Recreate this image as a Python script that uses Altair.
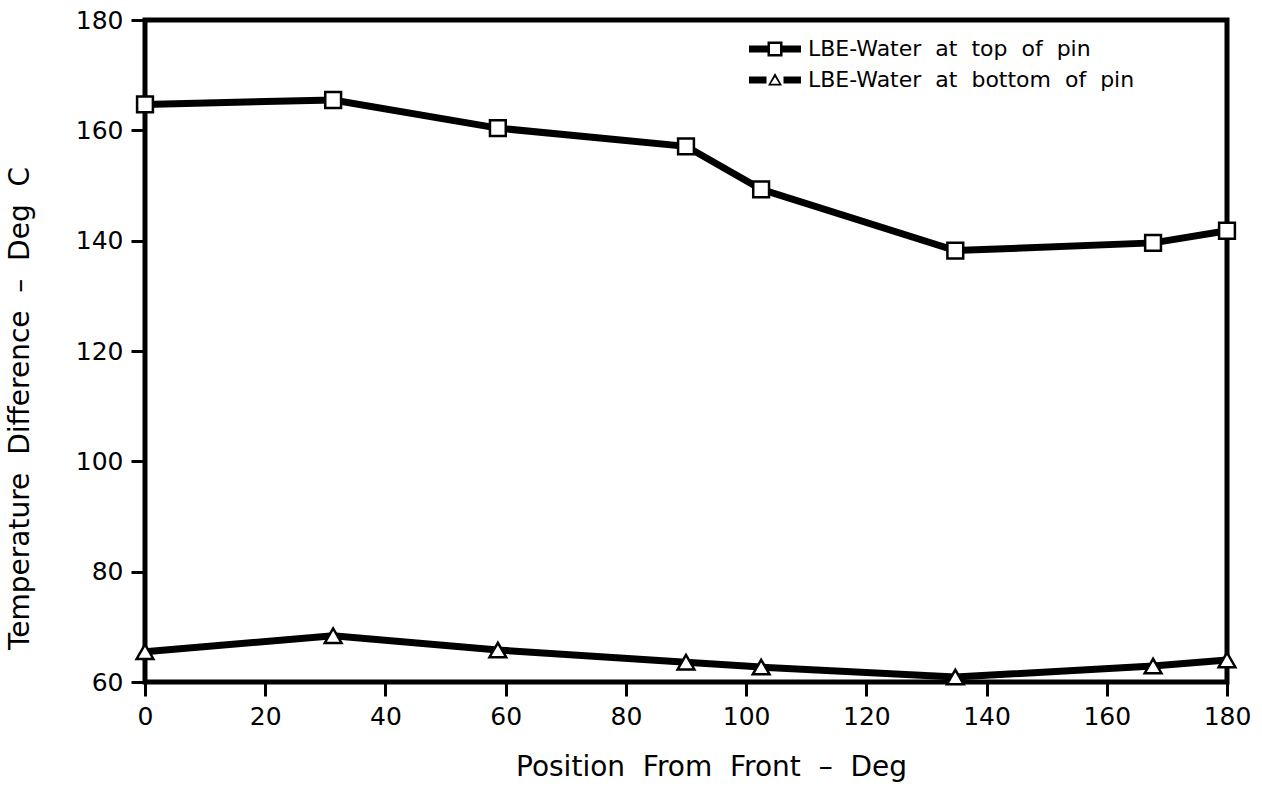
import altair as alt
import pandas as pd

positions = [0, 31.3, 58.7, 90.0, 102.5, 134.8, 167.7, 180.0]
top_values = [164.7, 165.5, 160.4, 157.1, 149.3, 138.2, 139.6, 141.8]
bottom_values = [65.5, 68.4, 65.8, 63.6, 62.7, 60.9, 62.9, 64.0]
series_names = ["LBE-Water at top of pin", "LBE-Water at bottom of pin"]
x_ticks = [0, 20, 40, 60, 80, 100, 120, 140, 160, 180]
y_ticks = [60, 80, 100, 120, 140, 160, 180]

df = pd.DataFrame({
    "position": positions + positions,
    "dt": top_values + bottom_values,
    "series": [series_names[0]] * len(positions) + [series_names[1]] * len(positions),
})

FONT = "DejaVu Sans"
SP = "\u00a0\u00a0"
x_title = SP.join(["Position", "From", "Front", "–", "Deg"])
y_title = SP.join(["Temperature", "Difference", "–", "Deg", "C"])

# legend symbols: bar - hollow marker - bar (hole drawn with opposite winding)
sq_path = ("M-2.6,-0.35H-0.75V0.35H-2.6Z M0.75,-0.35H2.6V0.35H0.75Z "
           "M-0.75,-0.75H0.75V0.75H-0.75Z M-0.5,-0.5V0.5H0.5V-0.5Z")
tri_path = ("M-2.6,-0.35H-0.85V0.35H-2.6Z M0.85,-0.35H2.6V0.35H0.85Z "
            "M0,-0.7L0.7,0.55L-0.7,0.55Z M0,-0.3L-0.42,0.38L0.42,0.38Z")

x_enc = alt.X(
    "position:Q",
    scale=alt.Scale(domain=[0, 180], nice=False),
    axis=alt.Axis(values=x_ticks, title=x_title, format="d",
                  titlePadding=24, labelFlush=False, titleX=566, titleAlign="center",
                  titleFontSize=28),
)
y_enc = alt.Y(
    "dt:Q",
    scale=alt.Scale(domain=[60, 180], nice=False, zero=False),
    axis=alt.Axis(values=y_ticks, title=y_title, format="d",
                  titleX=-111, titleY=388, titleAngle=-90, titleAlign="center",
                  titleBaseline="bottom", titleFontSize=28),
)

lines = alt.Chart(df).mark_line(color="black", strokeWidth=7, clip=False).encode(
    x=x_enc, y=y_enc, detail="series:N"
)

pts_top = alt.Chart(df).transform_filter(
    alt.datum.series == series_names[0]
).mark_point(shape="square", filled=True, fill="white", stroke="black",
             strokeWidth=2.5, size=250, opacity=1, clip=False).encode(x=x_enc, y=y_enc)

pts_bot = alt.Chart(df).transform_filter(
    alt.datum.series == series_names[1]
).mark_point(shape="triangle-up", filled=True, fill="white", stroke="black",
             strokeWidth=2.5, size=280, opacity=1, clip=False).encode(x=x_enc, y=y_enc)

legend_layer = alt.Chart(df).mark_point(filled=True, color="black", opacity=0, size=1).encode(
    x=x_enc, y=y_enc,
    shape=alt.Shape(
        "series:N",
        scale=alt.Scale(domain=series_names, range=[sq_path, tri_path]),
        legend=alt.Legend(
            title=None, orient="none", legendX=619, legendY=18,
            symbolSize=400, symbolOpacity=1, symbolFillColor="black",
            symbolStrokeColor="black", symbolStrokeWidth=0,
            labelFont=FONT, labelFontSize=22, labelColor="black",
            labelExpr="replace(datum.label, / /g, '\u00a0\u00a0')",
            labelOffset=22, rowPadding=9, padding=0, labelLimit=0,
        ),
    ),
)

chart = alt.layer(lines, pts_top, pts_bot, legend_layer).properties(
    width=1082, height=662,
    autosize=alt.AutoSizeParams(type="none"),
    padding={"left": 145, "top": 20, "right": 35, "bottom": 116},
    background="white",
).configure_view(
    stroke="black", strokeWidth=5
).configure_axis(
    domain=False, grid=False,
    tickColor="black", tickWidth=3, tickSize=14,
    labelFont=FONT, labelFontSize=25, labelColor="black", labelPadding=8,
    titleFont=FONT, titleFontSize=26, titleFontWeight="normal", titleColor="black",
)

chart.save("out.html", embed_options={"renderer": "svg", "actions": False})
